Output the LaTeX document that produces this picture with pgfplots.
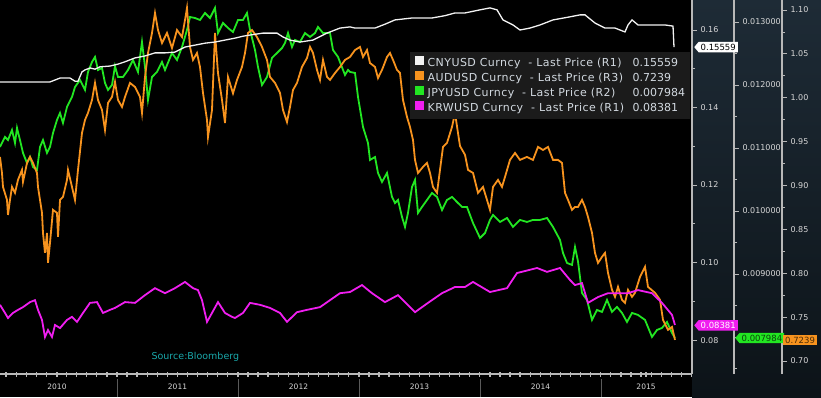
\documentclass[border=0pt]{standalone}
\usepackage{fontspec}
\setmainfont{DejaVu Sans}
\usepackage{pgfplots}
\usepackage{pgfplotstable}
\pgfplotsset{compat=1.18}
\usetikzlibrary{shapes.symbols}

\definecolor{cnycol}{HTML}{F2F2F2}
\definecolor{audcol}{HTML}{F7931E}
\definecolor{jpycol}{HTML}{22E622}
\definecolor{krwcol}{HTML}{F01EF0}
\definecolor{axgray}{HTML}{B8B8B8}
\definecolor{ticktext}{HTML}{D8D8D8}
\definecolor{legbg}{HTML}{1B1B1B}
\definecolor{legtext}{HTML}{D2D9E0}
\definecolor{srccol}{HTML}{1AA8AA}
\definecolor{navtop}{HTML}{1E2B36}
\definecolor{navbot}{HTML}{0C1318}
\definecolor{sepgray}{HTML}{5A5A5A}

% px: horizontal position on the 2010-2015 time axis (121 units per year), v: price
\pgfplotstableread{
px v
0 0.1466
20 0.1466
40 0.1466
50 0.1466
55 0.1471
60 0.1476
70 0.1476
75 0.1468
78 0.1468
82 0.1492
85 0.1497
90 0.1502
95 0.1499
100 0.1505
110 0.1507
118 0.1512
125 0.1518
135 0.1528
145 0.1533
155 0.1541
165 0.1541
175 0.1543
185 0.1556
195 0.1561
205 0.1566
215 0.1569
225 0.1574
235 0.1579
243 0.1584
250 0.1587
263 0.1592
277 0.1592
283 0.1582
290 0.1574
300 0.1569
313 0.1574
327 0.1592
340 0.1605
350 0.1608
355 0.1605
375 0.1605
385 0.1615
395 0.1626
412 0.1631
432 0.1631
445 0.1637
455 0.1644
465 0.1644
480 0.1652
490 0.1657
497 0.1652
503 0.1626
513 0.1613
520 0.1600
530 0.1605
540 0.1613
553 0.1626
570 0.1634
580 0.1639
585 0.1639
595 0.1618
605 0.1605
615 0.1605
625 0.1595
628 0.1613
632 0.1626
638 0.1613
652 0.1613
665 0.1613
673 0.1610
674 0.1556
}\cny

\pgfplotstableread{
px v
0 0.0891
5 0.0870
8 0.0857
13 0.0870
18 0.0878
23 0.0885
30 0.0898
35 0.0903
38 0.0878
42 0.0852
45 0.0808
48 0.0826
52 0.0808
55 0.0839
60 0.0831
67 0.0852
72 0.0860
77 0.0847
83 0.0870
90 0.0896
97 0.0898
103 0.0870
110 0.0878
115 0.0883
125 0.0898
135 0.0896
145 0.0916
155 0.0934
165 0.0921
175 0.0934
185 0.0950
193 0.0934
198 0.0929
202 0.0903
207 0.0847
212 0.0870
218 0.0898
225 0.0870
232 0.0860
235 0.0857
243 0.0870
250 0.0896
260 0.0891
270 0.0883
280 0.0870
287 0.0847
297 0.0872
307 0.0878
320 0.0885
330 0.0903
340 0.0921
350 0.0924
362 0.0942
372 0.0921
385 0.0898
398 0.0916
415 0.0872
428 0.0896
442 0.0921
455 0.0937
465 0.0937
473 0.0950
490 0.0924
507 0.0934
517 0.0973
537 0.0986
547 0.0976
560 0.0986
570 0.0955
575 0.0942
582 0.0947
588 0.0896
598 0.0911
608 0.0921
618 0.0921
628 0.0921
638 0.0929
652 0.0921
662 0.0896
672 0.0865
675 0.0839
}\krw

\pgfplotstableread{
px v
0 0.011016
5 0.011175
8 0.011127
12 0.011286
15 0.011080
17 0.011318
20 0.011127
23 0.010921
27 0.010762
30 0.010857
33 0.010699
37 0.010651
40 0.011016
43 0.011127
47 0.010921
50 0.011016
53 0.011238
57 0.011445
60 0.011556
63 0.011397
67 0.011651
72 0.011810
75 0.011968
80 0.012080
85 0.011921
88 0.012207
92 0.012365
95 0.012445
98 0.012238
102 0.012270
105 0.012032
108 0.011921
112 0.012000
115 0.012300
118 0.012127
123 0.012127
128 0.012238
133 0.012397
138 0.012207
142 0.012683
145 0.012286
148 0.011762
152 0.012127
157 0.012207
162 0.012365
165 0.012238
172 0.012508
177 0.012397
182 0.012603
187 0.012873
190 0.013079
195 0.013063
200 0.013032
205 0.013143
210 0.013063
215 0.013222
218 0.012825
223 0.012984
228 0.012905
233 0.012841
238 0.013032
243 0.013032
247 0.013143
250 0.012873
255 0.012556
258 0.012286
262 0.012000
267 0.012127
272 0.012429
277 0.012508
282 0.012587
285 0.012667
288 0.012825
292 0.012603
295 0.012714
300 0.012683
305 0.012825
310 0.012762
315 0.012825
318 0.012921
323 0.012825
330 0.012825
333 0.012556
338 0.012445
345 0.012159
348 0.012238
350 0.012207
355 0.012191
358 0.011810
363 0.011334
368 0.011080
370 0.010810
375 0.010857
378 0.010604
382 0.010461
387 0.010604
392 0.010223
395 0.010127
398 0.010175
402 0.009905
405 0.009747
408 0.009969
412 0.010381
415 0.010493
418 0.009969
422 0.010064
427 0.010175
432 0.010286
437 0.010223
442 0.010016
447 0.010175
452 0.010223
457 0.010143
462 0.010064
467 0.010064
473 0.009810
480 0.009572
485 0.009651
490 0.009858
493 0.009937
500 0.009826
507 0.009889
513 0.009747
520 0.009858
527 0.009826
533 0.009858
540 0.009858
547 0.009889
553 0.009747
560 0.009540
563 0.009334
567 0.009175
572 0.009144
575 0.009429
578 0.009200
582 0.008699
587 0.008588
592 0.008271
597 0.008429
602 0.008398
607 0.008588
612 0.008398
617 0.008477
622 0.008382
627 0.008239
632 0.008382
638 0.008350
645 0.008271
652 0.008001
657 0.008112
662 0.008144
667 0.008239
672 0.008064
675 0.007984
}\jpy

\pgfplotstableread{
px v
0 0.9326
2 0.9143
3 0.8984
7 0.8836
8 0.8665
10 0.8836
12 0.8984
15 0.8916
18 0.9064
22 0.9178
23 0.9041
27 0.9257
30 0.9326
33 0.9257
37 0.9143
38 0.8984
42 0.8688
43 0.8460
45 0.8232
47 0.8460
48 0.8118
50 0.8346
53 0.8722
57 0.8688
58 0.8415
60 0.8836
63 0.8870
67 0.9064
68 0.9178
72 0.8984
75 0.8836
78 0.9178
82 0.9599
85 0.9747
88 0.9827
92 0.9975
95 1.0169
98 0.9975
102 0.9861
105 0.9633
108 0.9941
112 1.0009
115 1.0180
118 0.9975
122 0.9895
125 1.0009
130 1.0169
135 1.0123
140 1.0009
142 0.9827
145 1.0237
148 1.0510
152 1.0738
155 1.0966
158 1.0772
162 1.0624
167 1.0738
172 1.0567
177 1.0772
182 1.0692
185 1.0886
187 1.1023
190 1.0579
193 1.0431
197 1.0510
200 1.0351
203 1.0055
207 0.9747
208 0.9553
212 0.9861
215 1.0738
218 1.0282
222 0.9975
225 0.9713
228 1.0237
233 1.0050
237 1.0203
242 1.0351
245 1.0510
248 1.0738
252 1.0772
257 1.0692
262 1.0579
267 1.0431
270 1.0237
275 1.0169
280 1.0055
283 0.9861
287 0.9724
290 0.9895
293 1.0089
297 1.0169
302 1.0351
307 1.0453
310 1.0579
313 1.0510
317 1.0317
320 1.0203
323 1.0431
327 1.0237
330 1.0203
335 1.0282
340 1.0351
345 1.0431
350 1.0465
355 1.0544
360 1.0579
363 1.0465
367 1.0544
370 1.0396
375 1.0351
378 1.0225
382 1.0317
387 1.0465
390 1.0510
393 1.0431
397 1.0317
400 1.0282
403 0.9975
407 0.9781
410 0.9667
413 0.9519
415 0.9292
418 0.9143
423 0.9212
427 0.9257
430 0.9143
433 0.8984
437 0.8916
440 0.9178
443 0.9440
447 0.9485
452 0.9667
455 0.9827
458 0.9599
460 0.9450
465 0.9350
468 0.9178
473 0.9143
478 0.8916
483 0.8984
487 0.8836
490 0.8722
493 0.8984
498 0.9064
502 0.8984
505 0.9098
510 0.9292
515 0.9371
520 0.9292
527 0.9326
533 0.9292
538 0.9440
543 0.9405
548 0.9440
553 0.9292
558 0.9292
562 0.9257
565 0.8916
568 0.8836
572 0.8722
575 0.8756
578 0.8756
582 0.8836
585 0.8756
588 0.8642
592 0.8460
595 0.8232
598 0.8118
602 0.8187
605 0.8232
608 0.8004
612 0.7811
615 0.7731
618 0.7845
622 0.7697
625 0.7663
628 0.7811
632 0.7731
635 0.7777
640 0.7959
645 0.8073
648 0.7845
655 0.7777
660 0.7697
663 0.7469
668 0.7355
672 0.7389
675 0.7241
}\aud

\pgfplotsset{
 base/.style={
  width=692pt, height=374pt, scale only axis,
  at={(0pt,0pt)}, anchor=south west,
  xmin=2010.033, xmax=2015.752,
  x filter/.expression={2010+(x+4)/121},
  axis line style={axgray, line width=1.2pt},
  ytick align=outside,
  major tick length=5pt, minor tick length=3pt,
  tick style={axgray, line width=0.8pt},
  yticklabel style={font=\fontsize{8}{9}\selectfont, text=ticktext},
  /pgf/number format/assume math mode=true,
  scaled y ticks=false,
  axis y line*=right,
  clip=false,
 },
}

\newcommand\legline[2]{\makebox[205pt][l]{\addfontfeatures{LetterSpace=4}#1}#2}

\begin{document}
\begin{tikzpicture}
\useasboundingbox (0pt,-23pt) rectangle (821pt,374pt);
\fill[black] (0pt,-23pt) rectangle (821pt,374pt);
\shade[top color=navtop, bottom color=navbot] (692pt,-23pt) rectangle (821pt,374pt);

% R2 : JPY
\begin{axis}[base,
  axis x line=none, xtick=\empty,
  ymin=0.0074127, ymax=0.013349,
  axis y line shift=42pt,
  ytick={0.008,0.009,0.010,0.011,0.012,0.013},
  minor ytick={0.0075,0.0085,0.0095,0.0105,0.0115,0.0125,0.0135},
  yticklabel style={/pgf/number format/.cd, fixed, fixed zerofill, precision=6},
]
\addplot[color=jpycol, line width=1.8pt] table[x=px,y=v]{\jpy};
\coordinate (tagJy) at (axis cs:2012,0.007984);
\end{axis}

% R3 : AUD
\begin{axis}[base,
  axis x line=none, xtick=\empty,
  ymin=0.6852, ymax=1.1114,
  axis y line shift=90pt,
  ytick={0.70,0.75,0.80,0.85,0.90,0.95,1.00,1.05,1.10},
  minor ytick={0.725,0.775,0.825,0.875,0.925,0.975,1.025,1.075},
  yticklabel style={/pgf/number format/.cd, fixed, fixed zerofill, precision=2},
]
\addplot[color=audcol, line width=1.8pt] table[x=px,y=v]{\aud};
\coordinate (tagAy) at (axis cs:2012,0.7239);
\end{axis}

% R1 : CNY, KRW
\begin{axis}[base,
  axis x line*=bottom,
  ymin=0.07125, ymax=0.16774,
  ytick={0.08,0.10,0.12,0.14,0.16},
  minor ytick={0.09,0.11,0.13,0.15},
  yticklabel style={/pgf/number format/.cd, fixed, fixed zerofill, precision=2},
  xtick={2010.0833,2010.1667,...,2015.70},
  xticklabels={},
  xtick align=center,
  x tick style={draw=axgray, line width=1.3pt},
  extra x ticks={2010.504,2011.5,2012.5,2013.5,2014.5,2015.372},
  extra x tick labels={2010,2011,2012,2013,2014,2015},
  extra x tick style={tick style={draw=none},
    xticklabel style={font=\fontsize{7.5}{8}\selectfont, text=ticktext, yshift=-4pt}},
  legend style={at={(0.5925,0.861)}, anchor=north west, fill=legbg, draw=none,
    text=legtext, font=\fontsize{11}{13}\selectfont, inner xsep=5pt, inner ysep=4pt,
    row sep=1.3pt, column sep=4pt,
    nodes={inner sep=0pt, text height=9pt, text depth=3pt}},
  legend cell align=left,
  legend image code/.code={\fill[#1] (0pt,-0.5pt) rectangle (8pt,7.5pt);},
]
\addplot[color=cnycol, line width=1.3pt, forget plot] table[x=px,y=v]{\cny};
\addplot[color=krwcol, line width=1.8pt, forget plot] table[x=px,y=v]{\krw};
\addlegendimage{cnycol}
\addlegendentry{\legline{CNYUSD Curncy\ \ - Last Price (R1)}{0.15559}}
\addlegendimage{audcol}
\addlegendentry{\legline{AUDUSD Curncy\ \ - Last Price (R3)}{0.7239}}
\addlegendimage{jpycol}
\addlegendentry{\legline{JPYUSD Curncy\ \ - Last Price (R2)}{0.007984}}
\addlegendimage{krwcol}
\addlegendentry{\legline{KRWUSD Curncy\ \ - Last Price (R1)}{0.08381}}
\pgfplotsinvokeforeach{2011,2012,2013,2014,2015}{
  \draw[sepgray, line width=1pt] (axis cs:#1,0.07125) ++(0pt,-5pt) -- ++(0pt,-18pt);
}
\node[anchor=west, text=srccol, font=\fontsize{9.5}{10}\selectfont] at (rel axis cs:0.214,0.045) {Source:Bloomberg};
\coordinate (tagC) at ({rel axis cs:1,0} |- {axis cs:2012,0.15559});
\coordinate (tagK) at ({rel axis cs:1,0} |- {axis cs:2012,0.08381});
\end{axis}

\tikzset{tag/.style={signal, signal to=west, signal pointer angle=100, font=\fontsize{8.5}{9}\selectfont, inner xsep=2pt, inner ysep=2pt, anchor=west}}
\node[tag, fill=white, text=black] at ([xshift=2pt]tagC) {0.15559};
\node[tag, fill=krwcol, text=white] at ([xshift=2pt]tagK) {0.08381};
\node[tag, fill=jpycol, text=black!70!jpycol] at ([xshift=43pt]tagC |- tagJy) {0.007984};
\node[fill=audcol, text=black!70!audcol, font=\fontsize{8.5}{9}\selectfont, inner xsep=2pt, inner ysep=2pt, anchor=west] at ([xshift=91pt]tagC |- tagAy) {0.7239};
\end{tikzpicture}
\end{document}
